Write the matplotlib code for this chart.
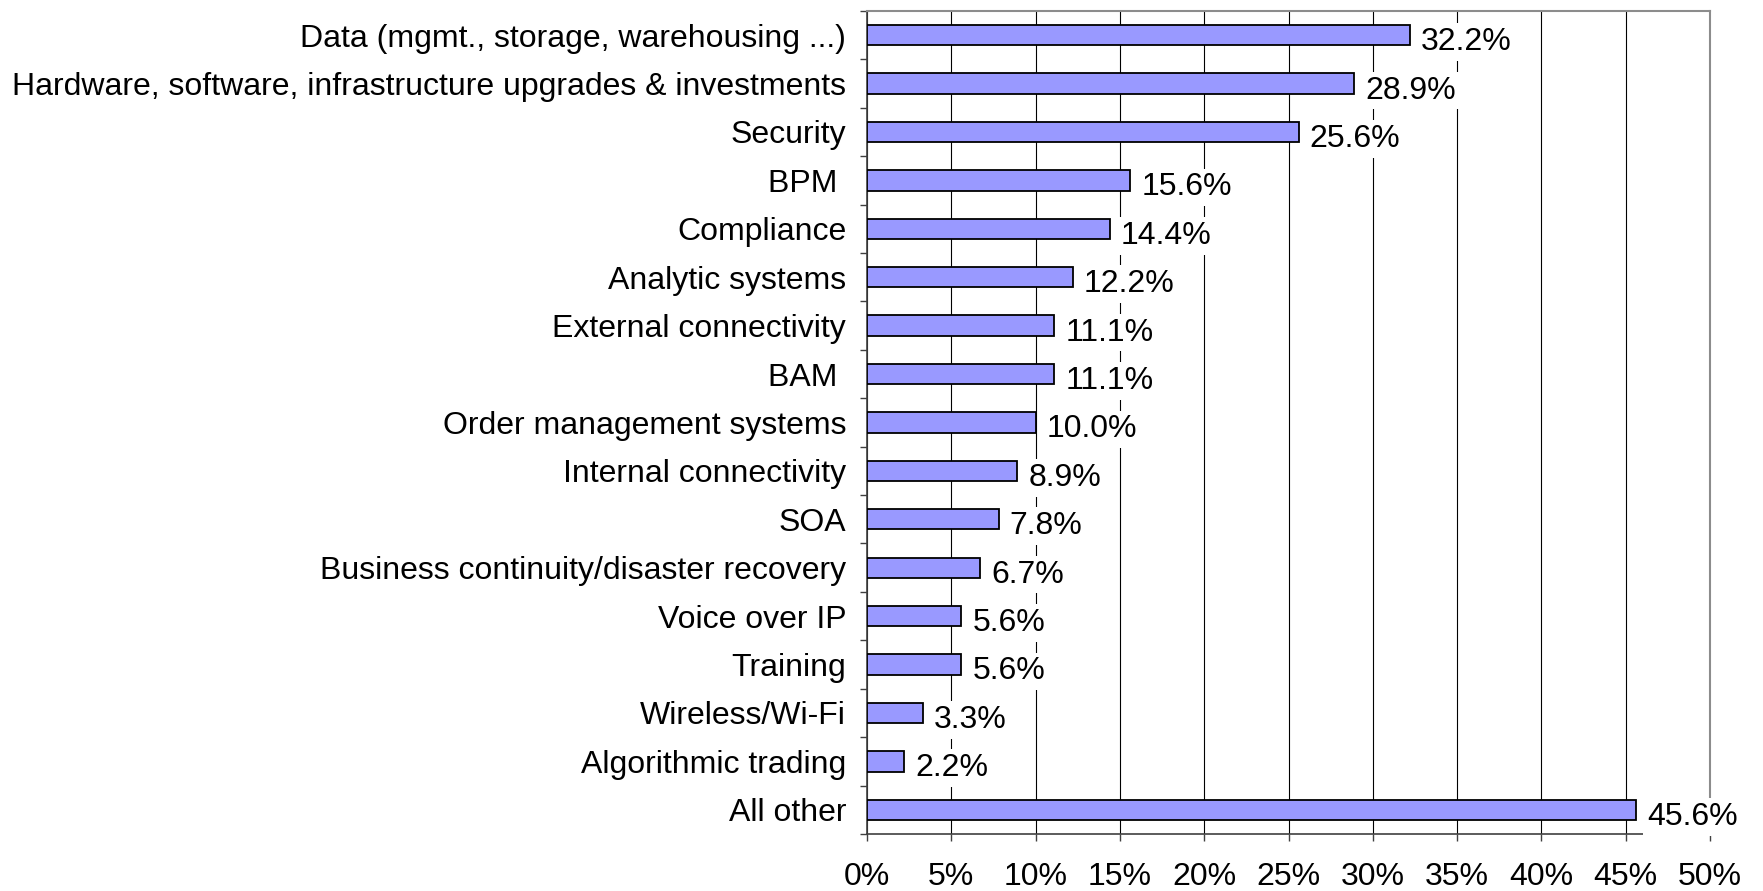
import matplotlib.pyplot as plt
from matplotlib.ticker import FixedLocator, PercentFormatter
import numpy as np

# categorias e valores (%)
categorias = ['Data (mgmt., storage, warehousing ...)',
              'Hardware, software, infrastructure upgrades & investments',
              'Security', 'BPM ', 'Compliance', 'Analytic systems',
              'External connectivity', 'BAM ', 'Order management systems',
              'Internal connectivity', 'SOA',
              'Business continuity/disaster recovery', 'Voice over IP',
              'Training', 'Wireless/Wi-Fi', 'Algorithmic trading', 'All other']
valores = [32.2, 28.9, 25.6, 15.6, 14.4, 12.2, 11.1, 11.1, 10.0, 8.9, 7.8,
           6.7, 5.6, 5.6, 3.3, 2.2, 45.6]
x_ticks = [0, 5, 10, 15, 20, 25, 30, 35, 40, 45, 50]

plt.rcParams['font.family'] = ['Liberation Sans', 'DejaVu Sans']
fs = 23

fig = plt.figure(figsize=(17.63, 8.91), dpi=100)
ax = fig.add_axes([0.4918, 0.064, 0.970 - 0.4918, 0.9877 - 0.064])

y = np.arange(len(categorias))
ax.barh(y, valores, height=0.42, color='#9999FF', edgecolor='black',
        linewidth=1.3, zorder=3)

# rótulos com fundo branco (cortam as linhas de grade)
for yi, v in zip(y, valores):
    ax.annotate(f'{v:.1f}%', xy=(v, yi), xytext=(8, -5), textcoords='offset points',
                ha='left', va='center', fontsize=fs, zorder=4,
                bbox=dict(boxstyle='square,pad=0.12', fc='white', ec='none'))

ax.set_xlim(0, 50)
ax.set_ylim(len(categorias) - 0.5, -0.5)
ax.xaxis.set_major_locator(FixedLocator(x_ticks))
ax.xaxis.set_major_formatter(PercentFormatter(decimals=0))
ax.set_yticks(y)
ax.set_yticklabels(categorias, fontsize=fs)
ax.yaxis.set_minor_locator(FixedLocator(np.arange(-0.5, len(categorias), 1)))
ax.tick_params(axis='y', which='major', length=0, pad=15)
ax.tick_params(axis='y', which='minor', length=5, width=1, color='#404040', direction='out')
ax.tick_params(axis='x', which='major', length=5, width=1, color='#404040',
               direction='out', pad=15, labelsize=fs)

ax.grid(axis='x', color='black', linewidth=0.8, zorder=0)
ax.set_axisbelow(True)

for lado in ['top', 'right']:
    ax.spines[lado].set_color('#8c8c8c')
    ax.spines[lado].set_linewidth(1.5)
for lado in ['left', 'bottom']:
    ax.spines[lado].set_color('#404040')
    ax.spines[lado].set_linewidth(1.2)

fig.savefig('out.png', dpi=100, facecolor='white')
